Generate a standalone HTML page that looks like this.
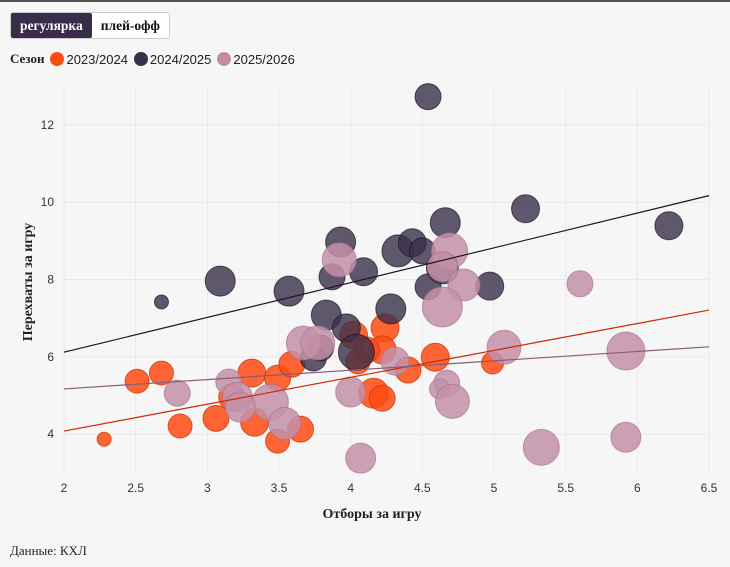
<!DOCTYPE html>
<html><head><meta charset="utf-8"><style>
body{margin:0;width:730px;height:567px;background:#f6f6f6;font-family:"Liberation Sans","DejaVu Sans",sans-serif;position:relative;overflow:hidden}
.top{position:absolute;left:0;top:0;width:730px;height:2px;background:#555}
.tabs{position:absolute;left:10px;top:12px;height:25px;border:1px solid #ccc;border-radius:3px;background:#fff;display:flex;font-family:"Liberation Serif",serif;font-weight:bold;font-size:13.5px}
.tab{padding:0 9px;line-height:25px;color:#111}
.tab.on{background:#3a2d4a;color:#fff;border-radius:2px}
.legend{position:absolute;left:10px;top:51px;font-size:13px;color:#222;display:flex;align-items:center}
.legend b{font-family:"Liberation Serif",serif;margin-right:6px}
.dot{width:14px;height:14px;border-radius:50%;display:inline-block;margin-right:2px}
.item{display:flex;align-items:center;margin-right:6px}
.src{position:absolute;left:10px;top:543px;font-family:"Liberation Serif",serif;font-size:13px;color:#222}
</style></head><body>
<div class="top"></div>
<div class="tabs">
<div class="tab on">регулярка</div>
<div class="tab">плей-офф</div>
</div>
<div class="legend"><b>Сезон</b>
<span class="item"><span class="dot" style="background:#ff4a12"></span>2023/2024</span>
<span class="item"><span class="dot" style="background:#3a2f4a"></span>2024/2025</span>
<span class="item"><span class="dot" style="background:#c48aa6"></span>2025/2026</span>
</div>
<svg id="chart" width="730" height="567" style="position:absolute;left:0;top:0"></svg>
<div class="src">Данные: КХЛ</div>
<script>
const xTicks=[2,2.5,3,3.5,4,4.5,5,5.5,6,6.5];
const yTicks=[4,6,8,10,12];
const orangeX=[2.28,2.51,2.68,2.81,3.06,3.17,3.31,3.33,3.49,3.49,3.59,3.65,4.24,4.02,4.22,4.11,4.40,4.59,4.99,4.16,4.22,4.05];
const orangeY=[3.87,5.37,5.58,4.21,4.41,4.96,5.58,4.31,5.45,3.82,5.81,4.13,6.75,6.56,6.18,6.18,5.66,5.99,5.84,5.06,4.93,5.87];
const orangeW=[7,12,12,12,13,13,14,14,13,12,13,13,14,14,14,13,13,14,11,15,13,12];
const darkX=[2.68,3.09,3.57,3.83,3.93,3.87,4.54,5.22,6.22,4.66,4.09,4.33,4.43,4.50,4.64,4.54,4.97,3.97,4.28,4.04,3.74,3.79];
const darkY=[7.42,7.96,7.70,7.08,8.97,8.07,12.73,9.83,9.39,9.47,8.20,8.74,8.95,8.74,8.30,7.81,7.83,6.75,7.24,6.12,5.97,6.23];
const darkW=[7,15,15,15,15,13,13,14,14,15,14,16,14,13,16,13,14,14,15,18,13,13];
const pinkX=[2.79,3.15,3.21,3.44,3.54,3.67,3.77,3.92,4.00,4.69,4.64,4.79,4.64,5.60,5.07,5.92,4.31,4.67,4.62,4.71,5.33,5.92,4.07,3.23];
const pinkY=[5.06,5.35,4.96,4.83,4.28,6.36,6.36,8.51,5.09,8.74,8.33,7.86,7.29,7.89,6.25,6.15,5.89,5.32,5.17,4.85,3.66,3.92,3.38,4.70];
const pinkW=[13,13,15,18,16,17,17,17,15,18,15,16,20,13,17,19,14,13,10,17,18,15,15,15];
const trendStart=[6.12,4.08,5.17]; // value at x=2
const trendEnd=[10.17,7.21,6.26];  // value at x=6.5
const NS="http://www.w3.org/2000/svg",svg=document.getElementById('chart');
const L=64,R=709,T=87,B=474,x0=2,x1=6.5,y0=2.97,y1=12.98;
const sx=v=>L+(v-x0)/(x1-x0)*(R-L), sy=v=>B-(v-y0)/(y1-y0)*(B-T), sr=w=>w;
function mk(t,a){const e=document.createElementNS(NS,t);for(const k in a)e.setAttribute(k,a[k]);svg.appendChild(e);return e;}
xTicks.forEach(v=>{const g=mk('line',{x1:sx(v),x2:sx(v),y1:T,y2:B,stroke:'#e9e9e9'});


const t=mk('text',{x:sx(v),y:B+18,'text-anchor':'middle','font-size':12,fill:'#333'});t.textContent=v;

});
yTicks.forEach(v=>{const g=mk('line',{x1:L,x2:R,y1:sy(v),y2:sy(v),stroke:'#e9e9e9'});


const t=mk('text',{x:L-10,y:sy(v)+4,'text-anchor':'end','font-size':12,fill:'#333'});t.textContent=v;

});
const series=[[orangeX,orangeY,orangeW,'#ff4a12','#c43000',0.85,'point-2023'],[darkX,darkY,darkW,'#3a2f4a','#1e1728',0.8,'point-2024'],[pinkX,pinkY,pinkW,'#c490a8','#a87590',0.85,'point-2025']];
series.forEach(s=>{s[0].forEach((xv,i)=>{const c=mk('circle',{cx:sx(xv),cy:sy(s[1][i]),r:sr(s[2][i]),fill:s[3],'fill-opacity':s[5],stroke:s[4],'stroke-opacity':0.7});

});});
const tc=['#1a1424','#cc2a00','#8a5a78'],tn=['trend-2024','trend-2023','trend-2025'];
trendStart.forEach((v,i)=>{const l=mk('line',{x1:sx(x0),y1:sy(v),x2:sx(x1),y2:sy(trendEnd[i]),stroke:tc[i],'stroke-width':1.2});

});
const xt=mk('text',{x:372,y:518,'text-anchor':'middle','font-size':14,'font-weight':'bold','font-family':'Liberation Serif,serif',fill:'#222'});xt.textContent='Отборы за игру';


const yt=mk('text',{x:0,y:0,transform:'translate(32,282) rotate(-90)','text-anchor':'middle','font-size':14,'font-weight':'bold','font-family':'Liberation Serif,serif',fill:'#222'});yt.textContent='Перехваты за игру';


</script>
</body></html>
